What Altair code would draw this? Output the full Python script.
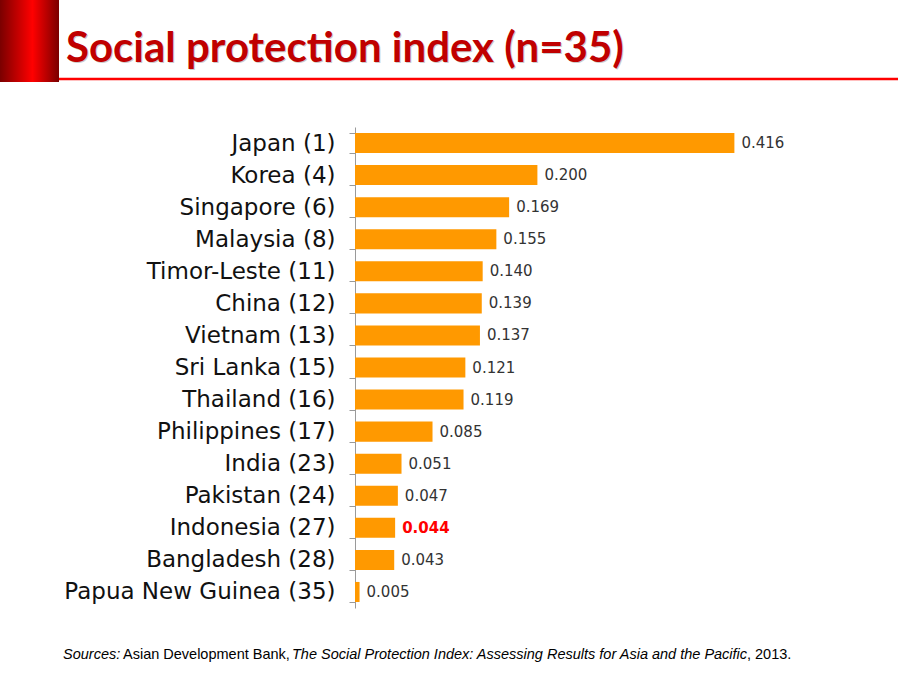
import altair as alt
import pandas as pd

countries = ["Japan (1)", "Korea (4)", "Singapore (6)", "Malaysia (8)", "Timor-Leste (11)",
             "China (12)", "Vietnam (13)", "Sri Lanka (15)", "Thailand (16)", "Philippines (17)",
             "India (23)", "Pakistan (24)", "Indonesia (27)", "Bangladesh (28)", "Papua New Guinea (35)"]
values = [0.416, 0.200, 0.169, 0.155, 0.140, 0.139, 0.137, 0.121, 0.119, 0.085,
          0.051, 0.047, 0.044, 0.043, 0.005]
value_labels = ["0.416", "0.200", "0.169", "0.155", "0.140", "0.139", "0.137", "0.121",
                "0.119", "0.085", "0.051", "0.047", "0.044", "0.043", "0.005"]
highlight = [c.startswith("Indonesia") for c in countries]

title_text = "Social protection index (n=35)"
src_parts = ["Sources:", "Asian Development Bank,",
             "The Social Protection Index: Assessing Results for Asia and the Pacific", ", 2013."]

df = pd.DataFrame({"country": countries, "value": values, "label": value_labels, "hl": highlight})
one = pd.DataFrame({"k": [0]})

W, H = 456, 481

y = alt.Y("country:N", sort=countries,
          scale=alt.Scale(paddingInner=0.375, paddingOuter=0.1875),
          axis=alt.Axis(title=None, labelFont="DejaVu Sans", labelFontSize=23, labelColor="#111111",
                        labelPadding=14, tickSize=6, tickColor="#9a9a9a", domainColor="#9a9a9a",
                        tickBand="extent", labelLimit=400))
x = alt.X("value:Q", scale=alt.Scale(domain=[0, 0.5], nice=False), axis=None)

bars = alt.Chart(df).mark_bar(color="#FF9900").encode(x=x, y=y)

txt = alt.Chart(df).transform_filter("!datum.hl").mark_text(
    align="left", dx=7, font="DejaVu Sans", fontSize=15, color="#333333").encode(x=x, y=y, text="label:N")
txt_hl = alt.Chart(df).transform_filter("datum.hl").mark_text(
    align="left", dx=7, font="DejaVu Sans", fontSize=15, fontWeight="bold", color="#FF0000").encode(
    x=x, y=y, text="label:N")

grad = alt.Gradient(gradient="linear", x1=0, x2=1, y1=0, y2=0,
                    stops=[alt.GradientStop(color="#7a0000", offset=0),
                           alt.GradientStop(color="#ff0000", offset=0.55),
                           alt.GradientStop(color="#7a0000", offset=1)])
block = alt.Chart(one).mark_rect(color=grad).encode(
    x=alt.value(-355), x2=alt.value(-296), y=alt.value(-127), y2=alt.value(-45))

rule = alt.Chart(one).mark_rule(color="#ff0000", strokeWidth=2.5).encode(
    x=alt.value(-296), x2=alt.value(543), y=alt.value(-48))

title_shadow = alt.Chart(one).mark_text(
    text=title_text, align="left", baseline="alphabetic", font="Lato", fontSize=42,
    fontWeight="bold", color="#000000", opacity=0.2).encode(x=alt.value(-288), y=alt.value(-64))
title = alt.Chart(one).mark_text(
    text=title_text, align="left", baseline="alphabetic", font="Lato", fontSize=42,
    fontWeight="bold", color="#C00000").encode(x=alt.value(-289), y=alt.value(-65))

src_font = "Liberation Sans"
src_x = [-292, -232, -63, 392]
src_style = ["italic", "normal", "italic", "normal"]
src_layers = []
for t, xx, st in zip(src_parts, src_x, src_style):
    src_layers.append(alt.Chart(one).mark_text(
        text=t, align="left", baseline="alphabetic", font=src_font, fontSize=14.5,
        fontStyle=st, color="#000000").encode(x=alt.value(xx), y=alt.value(532)))

chart = alt.layer(block, rule, title_shadow, title, bars, txt, txt_hl, *src_layers).properties(
    width=W, height=H,
    autosize=alt.AutoSizeParams(type="none"),
    padding={"left": 355, "top": 127, "right": 89, "bottom": 72},
    background="white",
).configure_view(stroke=None)

chart.save("out.html", embed_options={"renderer": "svg", "actions": False})
